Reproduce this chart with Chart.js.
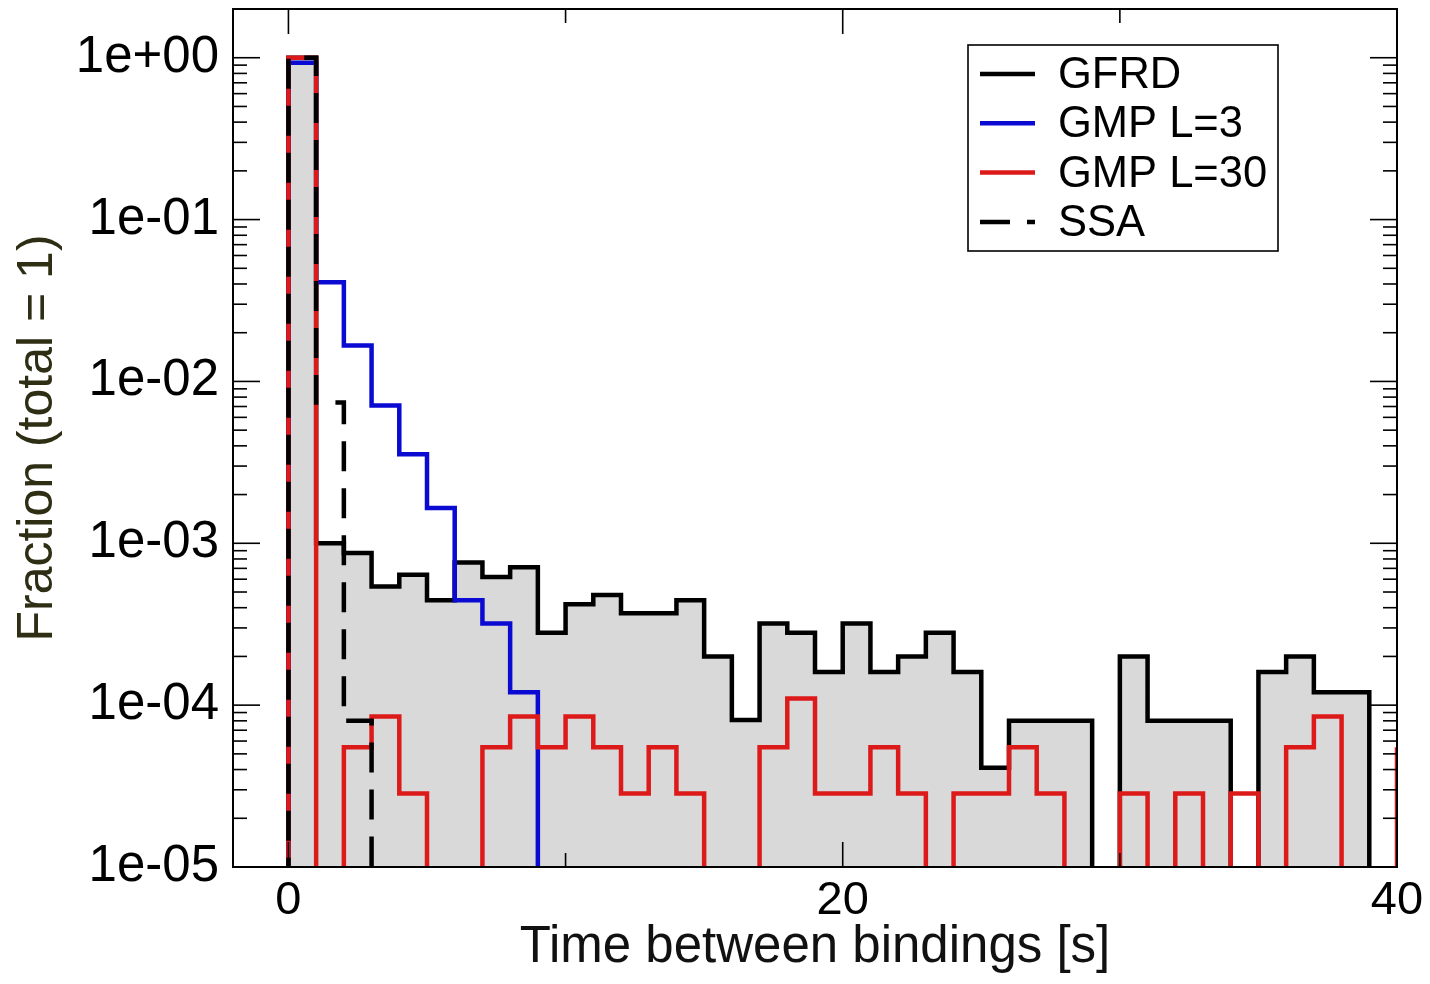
<!DOCTYPE html>
<html>
<head>
<meta charset="utf-8">
<title>Time between bindings</title>
<script src="https://cdn.jsdelivr.net/npm/chart.js@4.4.1/dist/chart.umd.min.js"></script>
<style>
  html, body { margin: 0; padding: 0; background: #fff; }
  #wrap { width: 1430px; height: 984px; }
</style>
</head>
<body>
<div id="wrap"><canvas id="histChart"></canvas></div>
<script>
// histogram bins are 1 s wide, first bin starts at t = 0
const binStart = 0;
const binWidth = 1;

// fraction per bin (0 = empty bin)
const gfrd = [
  1.0, 1.0e-3, 8.7e-4, 5.4e-4, 6.4e-4, 4.45e-4, 7.6e-4, 6.2e-4, 7.1e-4, 2.8e-4,
  4.2e-4, 4.8e-4, 3.7e-4, 3.7e-4, 4.45e-4, 2.0e-4, 8.1e-5, 3.2e-4, 2.8e-4, 1.6e-4,
  3.2e-4, 1.6e-4, 2.0e-4, 2.8e-4, 1.6e-4, 4.1e-5, 8.0e-5, 8.0e-5, 8.0e-5, 0,
  2.0e-4, 8.0e-5, 8.0e-5, 8.0e-5, 0, 1.6e-4, 2.0e-4, 1.2e-4, 1.2e-4, 0
];
const gmpL3 = [0.93, 4.1e-2, 1.67e-2, 7.1e-3, 3.55e-3, 1.65e-3, 4.45e-4, 3.2e-4, 1.2e-4];
const gmpL30 = [
  1.0, 0, 5.5e-5, 8.5e-5, 2.85e-5, 0, 0, 5.5e-5, 8.5e-5, 5.5e-5,
  8.5e-5, 5.5e-5, 2.85e-5, 5.5e-5, 2.85e-5, 0, 0, 5.5e-5, 1.1e-4, 2.85e-5,
  2.85e-5, 5.5e-5, 2.85e-5, 0, 2.85e-5, 2.85e-5, 5.5e-5, 2.85e-5, 0, 0,
  2.85e-5, 0, 2.85e-5, 0, 2.85e-5, 0, 5.5e-5, 8.5e-5, 0, 0,
  5.5e-5
];
const ssa = [1.0, 7.4e-3, 8.0e-5];

const yTicks = [1e-5, 1e-4, 1e-3, 1e-2, 1e-1, 1];
const yMinorSteps = [2, 3, 4, 5, 6, 7, 8, 9];
const xTicks = [0, 20, 40];
const xMinorTicks = [10, 30];

const Y_MIN = 1e-5;
const Y_MAX = 2;
const X_MIN = -2;
const X_MAX = 40;
// empty bins are drawn just below the visible range so they get clipped away
const Y_FLOOR = 1e-6;
const FONT = '"Liberation Sans", Arial, Helvetica, sans-serif';

// turn bin values into points for a stepped outline
function toSteps(values) {
  const pts = [{ x: binStart, y: Y_FLOOR }];
  values.forEach((v, i) => {
    pts.push({ x: binStart + i * binWidth, y: v > 0 ? v : Y_FLOOR });
  });
  pts.push({ x: binStart + values.length * binWidth, y: Y_FLOOR });
  return pts;
}

function expLabel(v) {
  const e = Math.round(Math.log10(v));
  const sign = e < 0 ? '-' : '+';
  return '1e' + sign + String(Math.abs(e)).padStart(2, '0');
}

// frame with inward ticks on all four sides
const frameTicks = {
  id: 'frameTicks',
  afterDatasetsDraw(chart) {
    const { ctx, chartArea: a, scales: { x, y } } = chart;
    const line = (x1, y1, x2, y2) => {
      ctx.beginPath();
      ctx.moveTo(x1, y1);
      ctx.lineTo(x2, y2);
      ctx.stroke();
    };
    ctx.save();
    ctx.strokeStyle = '#000';
    ctx.lineWidth = 1.6;
    xTicks.forEach(v => {
      const px = x.getPixelForValue(v);
      line(px, a.bottom, px, a.bottom - 25);
      line(px, a.top, px, a.top + 25);
    });
    xMinorTicks.forEach(v => {
      const px = x.getPixelForValue(v);
      line(px, a.bottom, px, a.bottom - 14);
      line(px, a.top, px, a.top + 14);
    });
    yTicks.forEach(v => {
      const py = y.getPixelForValue(v);
      line(a.left, py, a.left + 27, py);
      line(a.right, py, a.right - 27, py);
      yMinorSteps.forEach(m => {
        const mv = v * m;
        if (mv > Y_MAX) return;
        const pm = y.getPixelForValue(mv);
        line(a.left, pm, a.left + 14, pm);
        line(a.right, pm, a.right - 14, pm);
      });
    });
    ctx.lineWidth = 2;
    ctx.strokeRect(a.left, a.top, a.right - a.left, a.bottom - a.top);
    ctx.restore();
  }
};

// boxed legend in the upper right
const legendBox = {
  id: 'legendBox',
  afterDraw(chart) {
    const ctx = chart.ctx;
    const left = 968, top = 45, w = 310, h = 206;
    ctx.save();
    ctx.strokeStyle = '#000';
    ctx.lineWidth = 1.6;
    ctx.strokeRect(left, top, w, h);
    ctx.font = '43.5px ' + FONT;
    ctx.textBaseline = 'middle';
    chart.data.datasets.forEach((ds, i) => {
      const yy = top + 29 + i * 49.3;
      ctx.beginPath();
      ctx.setLineDash(ds.borderDash || []);
      ctx.strokeStyle = ds.borderColor;
      ctx.lineWidth = ds.borderWidth;
      ctx.moveTo(980, yy);
      ctx.lineTo(1035, yy);
      ctx.stroke();
      ctx.setLineDash([]);
      ctx.fillStyle = '#000';
      ctx.fillText(ds.label, 1058, yy + 2);
    });
    ctx.restore();
  }
};

const common = {
  stepped: 'before',
  pointRadius: 0,
  borderWidth: 4.5,
  borderJoinStyle: 'miter',
  borderCapStyle: 'butt',
  clip: 0,
  fill: false
};

new Chart(document.getElementById('histChart'), {
  type: 'line',
  data: {
    datasets: [
      { ...common, label: 'GFRD', data: toSteps(gfrd), borderColor: '#000000',
        fill: 'start', backgroundColor: '#d9d9d9', order: 3 },
      { ...common, label: 'GMP L=3', data: toSteps(gmpL3), borderColor: '#0a0ad2', order: 2 },
      { ...common, label: 'GMP L=30', data: toSteps(gmpL30), borderColor: '#dd1a1a', order: 1 },
      { ...common, label: 'SSA', data: toSteps(ssa), borderColor: '#000000',
        borderDash: [30, 17], order: 0 }
    ]
  },
  options: {
    responsive: true,
    maintainAspectRatio: false,
    devicePixelRatio: 1,
    animation: false,
    layout: { autoPadding: false, padding: { left: 0, top: 9, right: 33, bottom: 0 } },
    plugins: { legend: { display: false }, tooltip: { enabled: false } },
    scales: {
      x: {
        type: 'linear',
        min: X_MIN,
        max: X_MAX,
        grid: { display: false },
        border: { display: false },
        afterBuildTicks: s => { s.ticks = xTicks.map(v => ({ value: v })); },
        afterFit: s => { s.height = 117; s.paddingLeft = 0; s.paddingRight = 0; },
        ticks: { color: '#000', font: { family: FONT, size: 47 }, padding: -2,
                 maxRotation: 0, autoSkip: false, callback: v => String(v) },
        title: { display: true, text: 'Time between bindings [s]', color: '#111',
                 font: { family: FONT, size: 51 }, padding: { top: 0, bottom: 5 } }
      },
      y: {
        type: 'logarithmic',
        min: Y_MIN,
        max: Y_MAX,
        grid: { display: false },
        border: { display: false },
        afterBuildTicks: s => { s.ticks = yTicks.map(v => ({ value: v })); },
        afterFit: s => { s.width = 233; s.paddingTop = 0; s.paddingBottom = 0; },
        ticks: { color: '#000', font: { family: FONT, size: 51 }, padding: 6,
                 autoSkip: false, callback: v => expLabel(v) },
        title: { display: true, text: 'Fraction (total = 1)', color: '#2e2e14',
                 font: { family: FONT, size: 50 }, padding: { top: 8, bottom: 0 } }
      }
    }
  },
  plugins: [frameTicks, legendBox]
});
</script>
</body>
</html>
